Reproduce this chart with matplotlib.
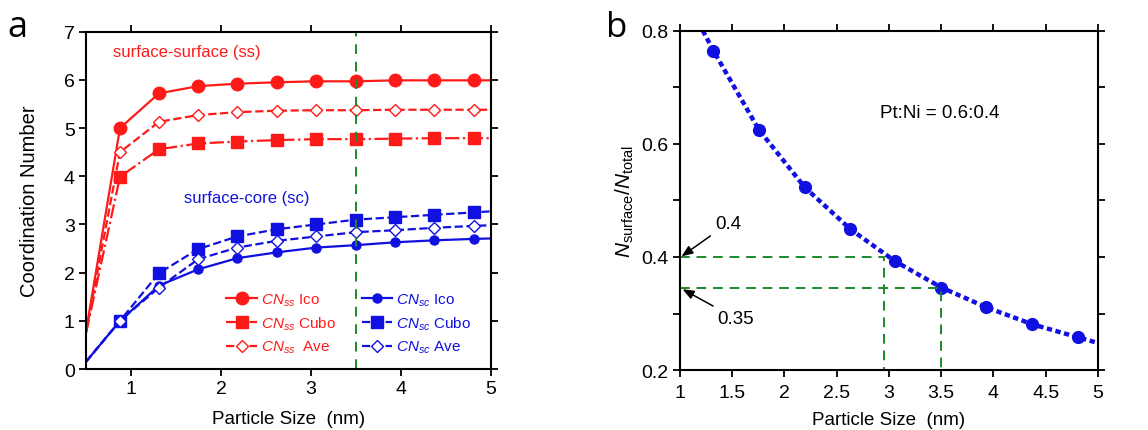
import matplotlib
matplotlib.use("Agg")
from matplotlib import pyplot as plt
from matplotlib.ticker import MultipleLocator

plt.rcParams['font.family'] = ['Liberation Sans', 'DejaVu Sans']
plt.rcParams['mathtext.fontset'] = 'custom'
plt.rcParams['mathtext.rm'] = 'Liberation Sans'
plt.rcParams['mathtext.it'] = 'Liberation Sans:italic'

# particle sizes (nm); first/last entries are line-only points outside the markers
size_a = [0.5, 0.878, 1.311, 1.748, 2.181, 2.619, 3.059, 3.5, 3.937, 4.370, 4.807, 5.25]
ss_ico = [0.78, 5.00, 5.72, 5.87, 5.92, 5.95, 5.97, 5.97, 5.99, 5.99, 5.99, 5.99]
ss_cubo = [0.74, 3.99, 4.56, 4.68, 4.72, 4.75, 4.77, 4.77, 4.78, 4.79, 4.79, 4.79]
ss_ave = [0.76, 4.50, 5.13, 5.27, 5.33, 5.36, 5.37, 5.37, 5.38, 5.38, 5.38, 5.38]
sc_ico = [0.15, 1.00, 1.73, 2.07, 2.30, 2.42, 2.52, 2.57, 2.63, 2.67, 2.70, 2.72]
sc_cubo = [0.15, 1.00, 1.99, 2.49, 2.75, 2.90, 3.00, 3.10, 3.15, 3.20, 3.25, 3.30]
sc_ave = [0.15, 1.00, 1.69, 2.28, 2.52, 2.66, 2.75, 2.84, 2.88, 2.93, 2.97, 3.00]

size_b = [0.878, 1.319, 1.755, 2.195, 2.632, 3.062, 3.502, 3.932, 4.372, 4.809, 5.245]
frac_surface = [0.92, 0.765, 0.625, 0.523, 0.449, 0.392, 0.346, 0.311, 0.281, 0.258, 0.235]

RED = '#ff1a1a'
BLUE = '#1010e0'
GREEN = '#1a8a2a'

fig = plt.figure(figsize=(11.48, 4.31), dpi=100)
ax1 = fig.add_axes([0.0749, 0.1415, 0.3528, 0.7827])
ax2 = fig.add_axes([0.5923, 0.139, 0.3641, 0.7874])

marks = slice(1, 11)
ax1.plot(size_a, ss_ico, '-', color=RED, lw=1.6, marker='o', ms=9, markevery=marks,
         label=r'$\mathit{CN}_{\mathit{ss}}$ Ico')
ax1.plot(size_a, ss_cubo, '-.', color=RED, lw=1.6, marker='s', ms=9, markevery=marks,
         label=r'$\mathit{CN}_{\mathit{ss}}$ Cubo')
ax1.plot(size_a, ss_ave, '--', color=RED, lw=1.6, marker='D', ms=6.5, mfc='white',
         mew=1, markevery=marks, label=r'$\mathit{CN}_{\mathit{ss}}$  Ave')
ax1.plot(size_a, sc_ico, '-', color=BLUE, lw=1.6, marker='o', ms=6.5, markevery=marks,
         label=r'$\mathit{CN}_{\mathit{sc}}$ Ico')
ax1.plot(size_a, sc_cubo, '--', color=BLUE, lw=1.6, marker='s', ms=9, markevery=marks,
         label=r'$\mathit{CN}_{\mathit{sc}}$ Cubo')
ax1.plot(size_a, sc_ave, '--', color=BLUE, lw=1.6, marker='D', ms=6.5, mfc='white',
         mew=1, markevery=marks, label=r'$\mathit{CN}_{\mathit{sc}}$ Ave')
ax1.axvline(3.5, color=GREEN, ls=(0, (5, 4)), lw=1.4)

ax1.set_xlim(0.5, 5)
ax1.set_ylim(0, 7)
ax1.xaxis.set_major_locator(MultipleLocator(1))
ax1.yaxis.set_major_locator(MultipleLocator(1))
ax1.set_xlabel('Particle Size  (nm)', fontsize=13.5, labelpad=9)
ax1.set_ylabel('Coordination Number', fontsize=14.5, labelpad=18)
ax1.text(0.8, 6.58, 'surface-surface (ss)', color=RED, fontsize=12, va='center')
ax1.text(1.59, 3.55, 'surface-core (sc)', color=BLUE, fontsize=12, va='center')
leg = ax1.legend(ncol=2, loc='lower right', bbox_to_anchor=(0.985, 0.0), frameon=False,
                 fontsize=11, labelcolor='linecolor', handlelength=2.0,
                 columnspacing=1.7, labelspacing=0.45, handletextpad=0.25)

ax2.plot(size_b, frac_surface, color=BLUE, lw=3.2, ls=(0, (1.2, 0.8)), marker='o', ms=8.5,
         markevery=slice(1, 10))
ax2.plot([1, 2.954, 2.954], [0.4, 0.4, 0.2], color=GREEN, ls=(0, (5, 3.5)), lw=1.4)
ax2.plot([1, 3.5, 3.5], [0.345, 0.345, 0.2], color=GREEN, ls=(0, (5, 3.5)), lw=1.4)
arrow = dict(arrowstyle='-|>,head_length=0.5,head_width=0.2', color='black', lw=1.1,
             shrinkA=2, shrinkB=0)
ax2.annotate('0.4', xy=(1.015, 0.401), xytext=(1.34, 0.46), fontsize=13.5, va='center',
             arrowprops=arrow)
ax2.annotate('0.35', xy=(1.025, 0.343), xytext=(1.36, 0.291), fontsize=13.5, va='center',
             arrowprops=arrow)
ax2.text(2.91, 0.655, 'Pt:Ni = 0.6:0.4', fontsize=13.5, va='center')

ax2.set_xlim(1, 5)
ax2.set_ylim(0.2, 0.8)
ax2.xaxis.set_major_locator(MultipleLocator(0.5))
ax2.xaxis.set_major_formatter(plt.FuncFormatter(lambda v, p: '%g' % v))
ax2.yaxis.set_major_locator(MultipleLocator(0.2))
ax2.yaxis.set_minor_locator(MultipleLocator(0.1))
ax2.yaxis.set_major_formatter(plt.FuncFormatter(lambda v, p: '%g' % round(v, 2)))
ax2.set_xlabel('Particle Size  (nm)', fontsize=13.5, labelpad=7)
ax2.set_ylabel(r'$N_{\mathrm{surface}}$/$N_{\mathrm{total}}$', fontsize=15, labelpad=4)

for ax in (ax1, ax2):
    for sp in ax.spines.values():
        sp.set_linewidth(1.5)
    ax.tick_params(which='both', direction='out', top=True, right=True, width=1.3,
                   labelsize=14, pad=3)
    ax.tick_params(which='major', length=5)
    ax.tick_params(which='minor', length=5)
ax2.tick_params(axis='x', pad=5)

fig.text(0.006, 0.935, 'a', fontsize=26, family='Open Sans', va='center')
fig.text(0.528, 0.935, 'b', fontsize=25, family='Open Sans', va='center')

fig.savefig('out.png', dpi=100)
